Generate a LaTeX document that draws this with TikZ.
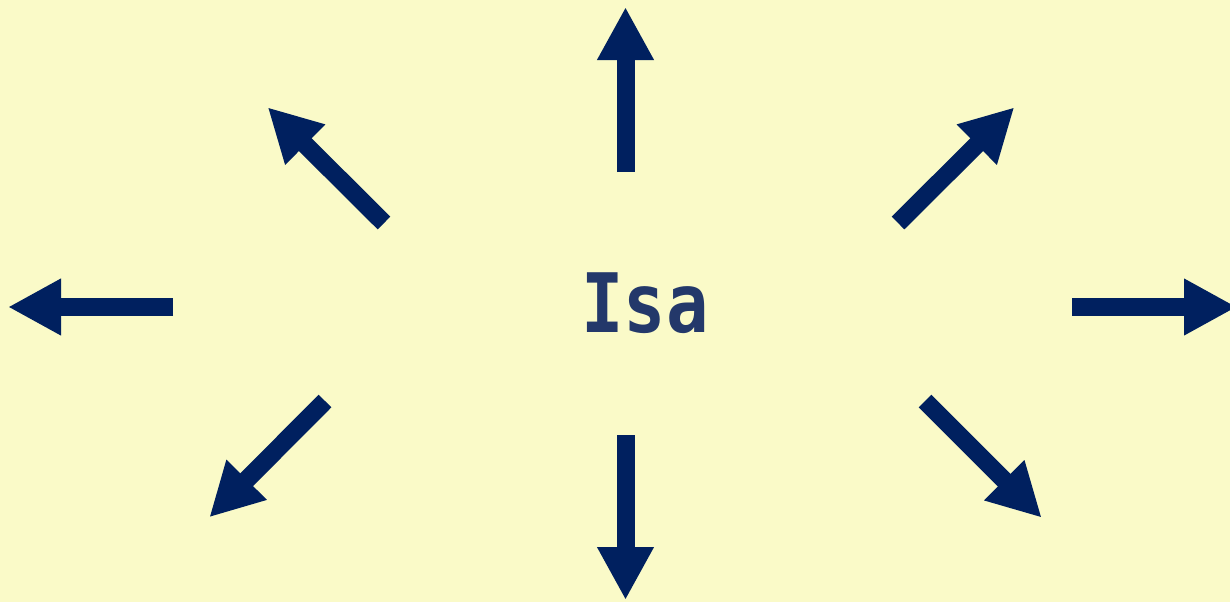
\documentclass[tikz,border=0pt]{standalone}
\usepackage{fontspec}
\newfontfamily\labelfont{DejaVu Sans Mono}
\usetikzlibrary{arrows.meta}
\definecolor{bgyellow}{HTML}{FAFAC8}
\definecolor{arrownavy}{HTML}{00205F}
\definecolor{textblue}{HTML}{23386A}
\tikzset{
  bigarrow/.style={draw=arrownavy, line width=18pt, line cap=butt,
    -{Triangle[length=53pt, width=53pt, color=arrownavy]}},
  centertext/.style={text=textblue, font=\labelfont\bfseries\fontsize{82}{90}\selectfont,
    inner sep=0pt, anchor=base, xscale=0.86}
}
\begin{document}
\begin{tikzpicture}[x=1pt, y=-1pt]
  \fill[bgyellow] (0,0) rectangle (1230,602);
  \useasboundingbox (0,0) rectangle (1230,602);
  \node[centertext] (isa) at (645,332) {Isa};
  % tails and tips
  \coordinate (nT) at (625.5,172);  \coordinate (nH) at (625.5,7);
  \coordinate (sT) at (625.5,435);  \coordinate (sH) at (625.5,600);
  \coordinate (wT) at (173,307);    \coordinate (wH) at (8,307);
  \coordinate (eT) at (1072,307);   \coordinate (eH) at (1237,307);
  \coordinate (nwT) at (384,223);   \coordinate (nwH) at (267.7,107.3);
  \coordinate (neT) at (898,223);   \coordinate (neH) at (1014.3,107.3);
  \coordinate (swT) at (325,401);   \coordinate (swH) at (209.3,517.3);
  \coordinate (seT) at (925,401);   \coordinate (seH) at (1041.7,517.7);
  \begin{scope}
    \clip (0,0) rectangle (1230,602);
    \draw[bigarrow] (nT) -- (nH);
    \draw[bigarrow] (sT) -- (sH);
    \draw[bigarrow] (wT) -- (wH);
    \draw[bigarrow] (eT) -- (eH);
    \draw[bigarrow] (nwT) -- (nwH);
    \draw[bigarrow] (neT) -- (neH);
    \draw[bigarrow] (swT) -- (swH);
    \draw[bigarrow] (seT) -- (seH);
  \end{scope}
\end{tikzpicture}
\end{document}
